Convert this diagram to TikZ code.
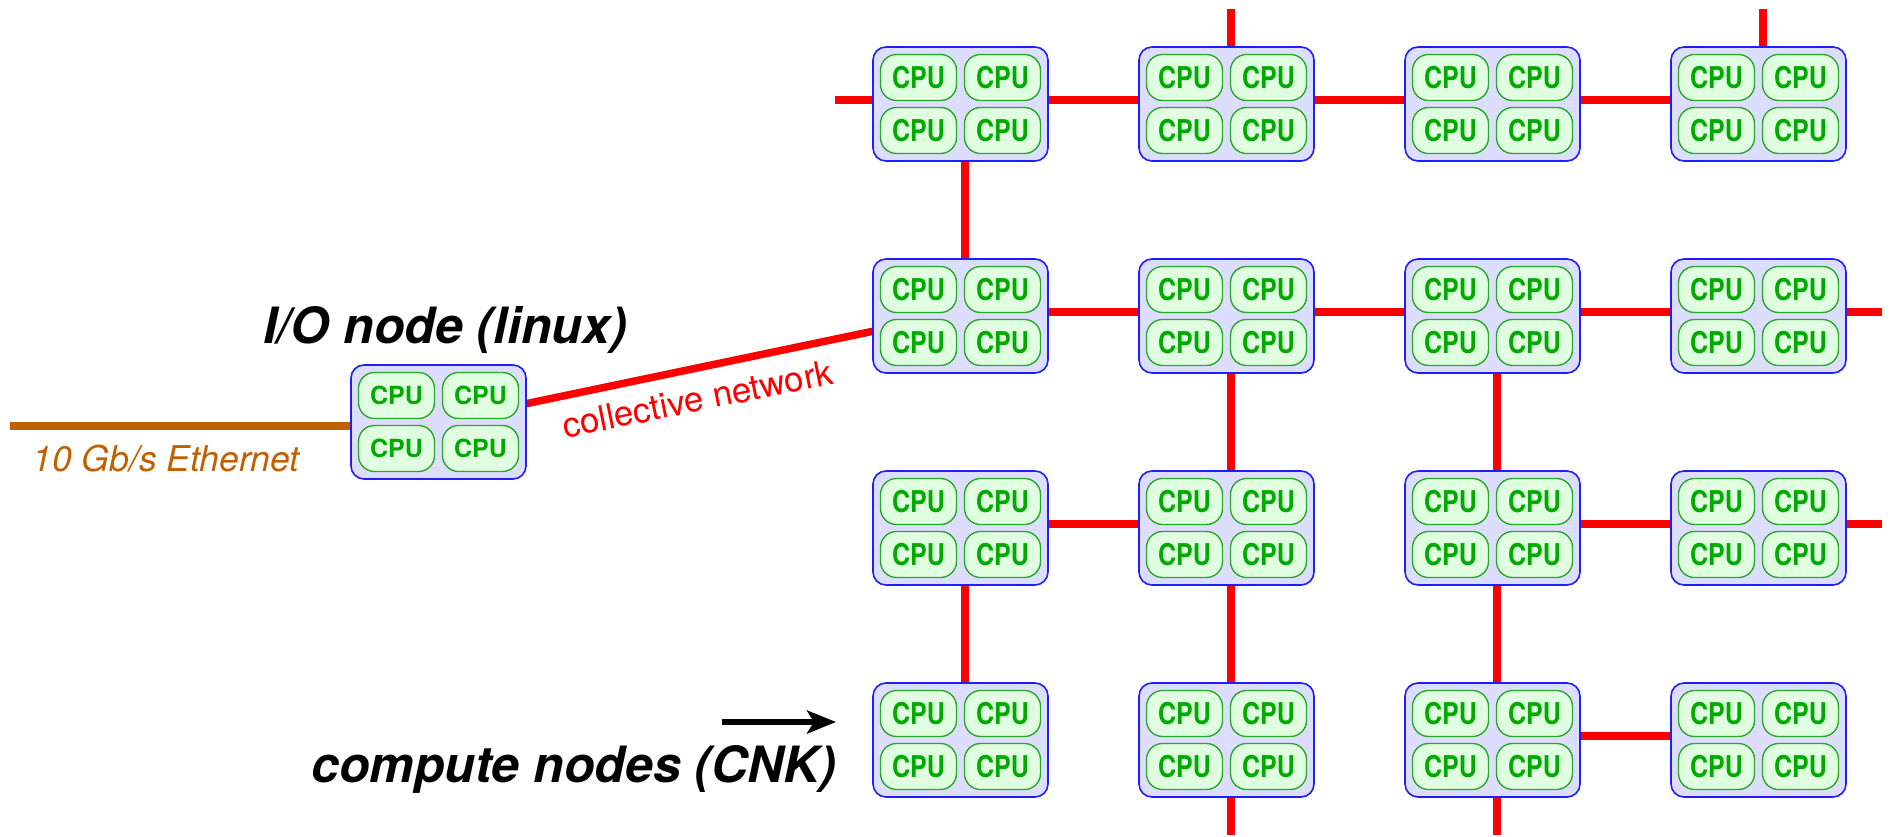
\documentclass[tikz,border=0pt]{standalone}
\usepackage{graphicx}
\usepackage{fontspec}
\setmainfont{TeX Gyre Heros}
\usetikzlibrary{arrows.meta,backgrounds,calc}

\definecolor{netred}{RGB}{255,0,0}
\definecolor{ethbrown}{RGB}{192,96,0}
\definecolor{boxfill}{RGB}{221,221,255}
\definecolor{boxline}{RGB}{30,30,255}
\definecolor{cpufill}{RGB}{224,255,224}
\definecolor{cpuline}{RGB}{40,170,40}
\definecolor{cputext}{RGB}{0,170,0}

\tikzset{
  nodebox/.style={draw=boxline, fill=boxfill, line width=1.6pt, rounded corners=13pt,
    minimum width=175pt, minimum height=114pt, inner sep=0pt},
  cpubox/.style={draw=cpuline, fill=cpufill, line width=1.4pt, rounded corners=16pt,
    minimum width=76pt, minimum height=46pt, inner sep=0pt, text=cputext,
    font=\fontsize{25}{25}\selectfont\bfseries},
  net/.style={draw=netred, line width=7.5pt},
  eth/.style={draw=ethbrown, line width=7.5pt},
  biglabel/.style={font=\fontsize{50}{60}\selectfont\bfseries\itshape, anchor=base, inner sep=0pt},
}

% one node board: outer box, four CPUs and the hub point the network lines meet
\newcommand\cnbox[4]{%
  \node[nodebox] (#1) at (#2,#3) {};
  \node[cpubox] (#1-a) at ($(#1)+(-42,-26.5)$) {#4};
  \node[cpubox] (#1-b) at ($(#1)+(42,-26.5)$) {#4};
  \node[cpubox] (#1-c) at ($(#1)+(-42,26.5)$) {#4};
  \node[cpubox] (#1-d) at ($(#1)+(42,26.5)$) {#4};
  \coordinate (#1-hub) at ($(#1)+(4.5,-4)$);
}
\newcommand\gridcpu{\scalebox{1}[1.2]{CPU}}

\begin{document}
\begin{tikzpicture}[x=1pt,y=-1pt]
\useasboundingbox (0,0) rectangle (1890,837);

% compute node grid
\foreach \r in {0,...,3}{
  \foreach \c in {0,...,3}{
    \cnbox{n\r\c}{960.5+266*\c}{104+212*\r}{\gridcpu}
  }
}

% I/O node
\cnbox{io}{438.5}{422}{CPU}

% free ends of the network stubs
\coordinate (sL0) at (835,100);
\coordinate (sT1) at (1231,9);
\coordinate (sT3) at (1763,9);
\coordinate (sR1) at (1882,312);
\coordinate (sR2) at (1882,524);
\coordinate (sB1) at (1231,835);
\coordinate (sB2) at (1497,835);
\coordinate (ethS) at (10,426);

\begin{pgfonlayer}{background}
  % horizontal links
  \draw[net] (n00-hub) -- (n01-hub);
  \draw[net] (n01-hub) -- (n02-hub);
  \draw[net] (n02-hub) -- (n03-hub);
  \draw[net] (n10-hub) -- (n11-hub);
  \draw[net] (n11-hub) -- (n12-hub);
  \draw[net] (n12-hub) -- (n13-hub);
  \draw[net] (n20-hub) -- (n21-hub);
  \draw[net] (n22-hub) -- (n23-hub);
  \draw[net] (n32-hub) -- (n33-hub);
  % vertical links
  \draw[net] (n00-hub) -- (n10-hub);
  \draw[net] (n11-hub) -- (n21-hub);
  \draw[net] (n12-hub) -- (n22-hub);
  \draw[net] (n20-hub) -- (n30-hub);
  \draw[net] (n21-hub) -- (n31-hub);
  \draw[net] (n22-hub) -- (n32-hub);
  % stubs leaving the picture
  \draw[net] (sL0) -- (n00-hub);
  \draw[net] (sT1) -- (n01-hub);
  \draw[net] (sT3) -- (n03-hub);
  \draw[net] (n13-hub) -- (sR1);
  \draw[net] (n23-hub) -- (sR2);
  \draw[net] (n31-hub) -- (sB1);
  \draw[net] (n32-hub) -- (sB2);
  % collective network and ethernet
  \draw[net] (io.center) -- (n10-hub);
  \draw[eth] (ethS) -- (ethS -| io.center);
\end{pgfonlayer}

% labels
\node[biglabel] (iolabel) at (445,343) {I/O node (linux)};
\node[biglabel] (cnlabel) at (574,782) {compute nodes (CNK)};
\node[font=\fontsize{35.5}{40}\selectfont\itshape, text=ethbrown, anchor=base, inner sep=0pt]
  (ethlabel) at (166,471) {10 Gb/s Ethernet};
\node[font=\fontsize{35}{40}\selectfont, text=netred, anchor=base, inner sep=0pt, rotate=11.5]
  (colllabel) at (700,411) {collective network};

% pointer to the compute nodes
\coordinate (arrS) at (722,722);
\coordinate (arrE) at (836,722);
\draw[line width=5.3pt, -{Stealth[length=29pt, width=23pt, inset=7pt]}] (arrS) -- (arrE);

\end{tikzpicture}
\end{document}
